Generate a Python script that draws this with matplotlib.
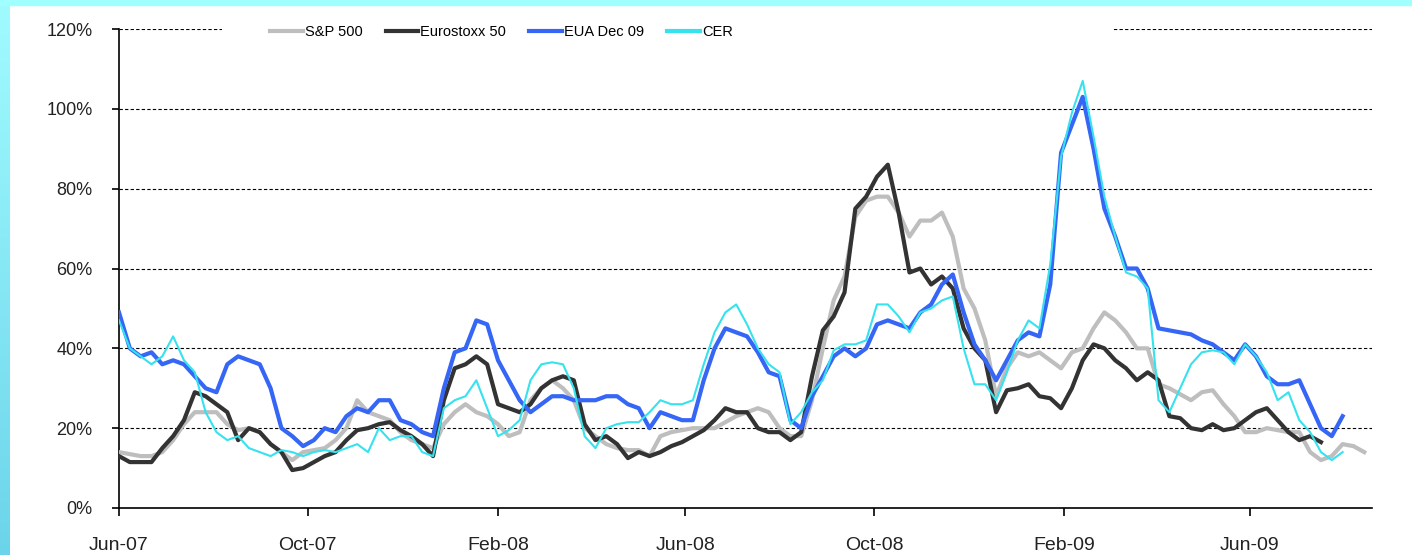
import numpy as np
import pandas as pd
import matplotlib
matplotlib.use("Agg")
import matplotlib.pyplot as plt
import matplotlib.dates as mdates
from matplotlib.patches import Rectangle
from matplotlib.ticker import FuncFormatter

# ================================================================
# Volatilidade: S&P 500, Eurostoxx 50, EUA Dec 09, CER (semanal, %)
# ================================================================
start = "2007-06-01"

sp500 = [14, 13.5, 13, 13, 14, 17, 21, 24, 24, 24,
         21, 19.5, 20, 19, 16, 14, 12, 14, 14.5, 15,
         17, 20, 27, 24, 23, 22, 19, 17, 16, 15,
         21, 24, 26, 24, 23, 21, 18, 19, 27, 30,
         32, 30, 27, 20, 18, 16, 15, 14.5, 14.5, 13,
         18, 19, 19.5, 20, 20, 20, 21.5, 23, 24, 25,
         24, 20, 18, 18, 27, 40, 52, 58, 73, 77,
         78, 78, 74, 68, 72, 72, 74, 68, 55, 50,
         42, 28, 35, 39, 38, 39, 37, 35, 39, 40,
         45, 49, 47, 44, 40, 40, 31, 30, 28.5, 27,
         29, 29.5, 26, 23, 19, 19, 20, 19.5, 19, 19,
         14, 12, 13, 16, 15.5, 14]

eurostoxx = [13, 11.5, 11.5, 11.5, 15, 18, 22, 29, 28, 26,
             24, 17, 20, 19, 16, 14, 9.5, 10, 11.5, 13,
             14, 17, 19.5, 20, 21, 21.5, 19.5, 18, 16, 13,
             27, 35, 36, 38, 36, 26, 25, 24, 26, 30,
             32, 33, 32, 21, 17, 18, 16, 12.5, 14, 13,
             14, 15.5, 16.5, 18, 19.5, 22, 25, 24, 24, 20,
             19, 19, 17, 19, 33, 44.5, 48, 54, 75, 78,
             83, 86, 74, 59, 60, 56, 58, 55, 45, 40,
             37, 24, 29.5, 30, 31, 28, 27.5, 25, 30, 37,
             41, 40, 37, 35, 32, 34, 32, 23, 22.5, 20,
             19.5, 21, 19.5, 20, 22, 24, 25, 22, 19, 17,
             18, 16.5]

eua_dec09 = [49, 40, 38, 39, 36, 37, 36, 33, 30, 29,
             36, 38, 37, 36, 30, 20, 18, 15.5, 17, 20,
             19, 23, 25, 24, 27, 27, 22, 21, 19, 18,
             30, 39, 40, 47, 46, 37, 32, 27, 24, 26,
             28, 28, 27, 27, 27, 28, 28, 26, 25, 20,
             24, 23, 22, 22, 32, 40, 45, 44, 43, 39,
             34, 33, 22, 20, 28, 33, 38, 40, 38, 40,
             46, 47, 46, 45, 49, 51, 56, 58.5, 49, 41,
             37, 32, 37, 42, 44, 43, 56, 89, 96, 103,
             90, 75, 68, 60, 60, 55, 45, 44.5, 44, 43.5,
             42, 41, 39, 37, 41, 38, 33, 31, 31, 32,
             26, 20, 18, 23]

cer = [47, 40, 38, 36, 38, 43, 37, 34, 24, 19,
       17, 18, 15, 14, 13, 14.5, 14, 13, 14, 14.5,
       14, 15, 16, 14, 20, 17, 18, 18, 14, 13,
       25, 27, 28, 32, 25, 18, 19.5, 22, 32, 36,
       36.5, 36, 30, 18, 15, 20, 21, 21.5, 21.5, 24,
       27, 26, 26, 27, 36, 44, 49, 51, 46, 40,
       36, 34, 21, 24, 29, 32, 39.5, 41, 41, 42,
       51, 51, 48, 44, 49, 50, 52, 53, 40, 31,
       31, 27, 34, 42, 47, 45, 61, 88, 99, 107,
       93, 78, 68, 59, 58, 55, 27, 24, 30, 36,
       39, 39.5, 39, 36, 41, 38, 34, 27, 29, 22,
       19, 14, 12, 14]

series_names = ["S&P 500", "Eurostoxx 50", "EUA Dec 09", "CER"]
series_vals = [sp500, eurostoxx, eua_dec09, cer]
series_colors = ["#BEBEBE", "#333333", "#3566F5", "#36E2EE"]
series_widths = [3.0, 3.0, 3.0, 1.5]

# ================================================================
# Figura
# ================================================================
W, H = 1412, 555
fig = plt.figure(figsize=(W / 100, H / 100), dpi=100)
fig.patch.set_facecolor("white")

# moldura ciano (topo e lado esquerdo)
fig.patches.append(Rectangle((0, 1 - 5 / H), 1, 5 / H, transform=fig.transFigure,
                             color="#A0FFFF", zorder=0))
bax = fig.add_axes([0, 0, 10 / W, 1 - 5 / H])
grad = np.linspace(0, 1, 256).reshape(-1, 1)
bax.imshow(grad, aspect="auto", cmap=matplotlib.colors.LinearSegmentedColormap.from_list(
    "borda", ["#A0FBFF", "#6CD4EA"]), extent=[0, 1, 0, 1])
bax.axis("off")

x0, x1, y0, y1 = 119, 1372, 29, 508
ax = fig.add_axes([x0 / W, 1 - y1 / H, (x1 - x0) / W, (y1 - y0) / H])

for name, vals, col, lw in zip(series_names, series_vals, series_colors, series_widths):
    t = pd.date_range(start, periods=len(vals), freq="7D")
    ax.plot(t, vals, color=col, lw=lw, label=name, solid_joinstyle="round", zorder=3)

ax.set_xlim(pd.Timestamp("2007-06-01"), pd.Timestamp("2009-08-19"))
ax.set_ylim(0, 120)
ax.set_yticks(np.arange(0, 121, 20))
ax.yaxis.set_major_formatter(FuncFormatter(lambda v, p: f"{v:.0f}%"))
ax.xaxis.set_major_locator(mdates.MonthLocator(bymonth=[2, 6, 10]))
ax.xaxis.set_major_formatter(mdates.DateFormatter("%b-%y"))

ax.yaxis.grid(True, linestyle=(0, (3, 2)), color="black", linewidth=0.8)
ax.set_axisbelow(True)
for s in ["top", "right"]:
    ax.spines[s].set_visible(False)
for s in ["left", "bottom"]:
    ax.spines[s].set_linewidth(1.2)

ax.tick_params(axis="y", direction="out", length=5, width=1.2, pad=14,
               labelsize=13, labelcolor="#222222")
ax.tick_params(axis="x", direction="out", length=6, width=1.2, pad=15,
               labelsize=14, labelcolor="#222222")
for lab in ax.get_xticklabels() + ax.get_yticklabels():
    lab.set_fontfamily("Liberation Sans")

# fundo branco da legenda sobre a grade de 120%
ax.add_patch(Rectangle(((222 - x0) / (x1 - x0), (y1 - 45) / (y1 - y0)),
                       (1112 - 222) / (x1 - x0), 27 / (y1 - y0),
                       transform=ax.transAxes, facecolor="white", edgecolor="none",
                       clip_on=False, zorder=4))

leg = ax.legend(loc="center left", ncol=4, frameon=False,
                bbox_to_anchor=((270 - x0) / (x1 - x0), (y1 - 32) / (y1 - y0)),
                borderaxespad=0, borderpad=0, handlelength=2.25, handletextpad=0.12,
                columnspacing=1.6,
                prop={"family": "Liberation Sans", "size": 10.5})
leg.set_zorder(5)
for h in leg.get_lines():
    h.set_linewidth(3.0)

fig.savefig("out.png", dpi=100)
